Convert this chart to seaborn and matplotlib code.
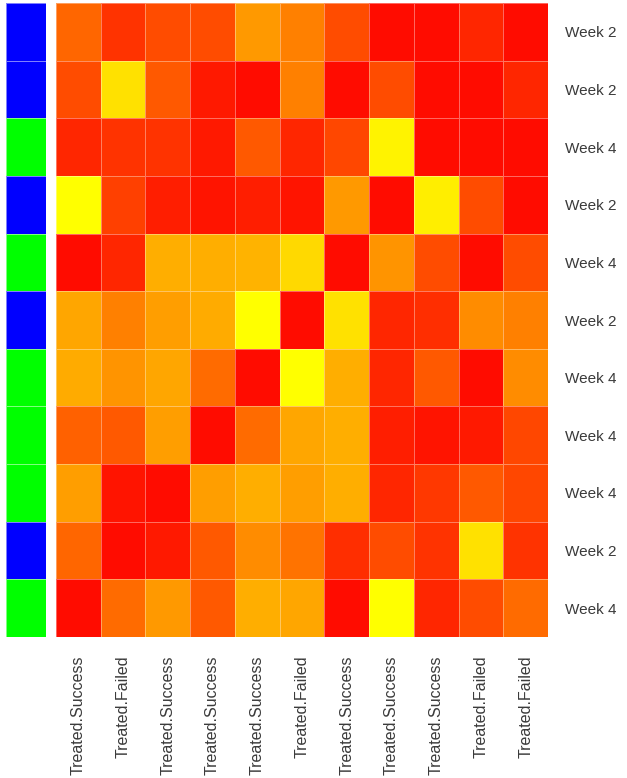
import numpy as np
import pandas as pd
import seaborn as sns
import matplotlib.pyplot as plt
from matplotlib.colors import LinearSegmentedColormap, ListedColormap

# row / column annotations
row_labels = ['Week 2', 'Week 2', 'Week 4', 'Week 2', 'Week 4', 'Week 2',
              'Week 4', 'Week 4', 'Week 4', 'Week 2', 'Week 4']
col_labels = ['Treated.Success', 'Treated.Failed', 'Treated.Success', 'Treated.Success',
              'Treated.Success', 'Treated.Failed', 'Treated.Success', 'Treated.Success',
              'Treated.Success', 'Treated.Failed', 'Treated.Failed']
row_groups = [0, 0, 1, 0, 1, 0, 1, 1, 1, 0, 1]   # 0 = blue (Week 2), 1 = green (Week 4)

# cell values (0 = red, 1 = yellow), read row by row
r0 = [0.40, 0.20, 0.30, 0.30, 0.60, 0.50, 0.30, 0.05, 0.05, 0.15, 0.05]
r1 = [0.30, 0.88, 0.35, 0.10, 0.05, 0.50, 0.05, 0.30, 0.05, 0.05, 0.15]
r2 = [0.15, 0.20, 0.20, 0.10, 0.35, 0.15, 0.28, 0.95, 0.05, 0.05, 0.05]
r3 = [1.00, 0.25, 0.12, 0.08, 0.12, 0.08, 0.60, 0.05, 0.93, 0.30, 0.05]
r4 = [0.05, 0.15, 0.68, 0.68, 0.70, 0.85, 0.05, 0.58, 0.30, 0.05, 0.30]
r5 = [0.65, 0.50, 0.62, 0.67, 1.00, 0.05, 0.88, 0.15, 0.18, 0.55, 0.50]
r6 = [0.67, 0.58, 0.65, 0.42, 0.05, 1.00, 0.68, 0.15, 0.35, 0.05, 0.55]
r7 = [0.38, 0.35, 0.62, 0.05, 0.42, 0.65, 0.68, 0.12, 0.08, 0.10, 0.28]
r8 = [0.62, 0.08, 0.05, 0.62, 0.68, 0.62, 0.68, 0.15, 0.22, 0.35, 0.28]
r9 = [0.40, 0.05, 0.10, 0.35, 0.55, 0.45, 0.18, 0.30, 0.20, 0.88, 0.20]
r10 = [0.05, 0.42, 0.60, 0.35, 0.68, 0.65, 0.05, 1.00, 0.15, 0.30, 0.42]

vals = np.array([r0, r1, r2, r3, r4, r5, r6, r7, r8, r9, r10])
df = pd.DataFrame(vals, index=range(len(row_labels)), columns=range(len(col_labels)))

heat = LinearSegmentedColormap.from_list('heat', ['#ff0000', '#ffff00'])
side = ListedColormap(['#0000ff', '#00ff00'])

sns.set_style('white')
plt.rcParams['font.family'] = ['Liberation Sans', 'DejaVu Sans']

fig = plt.figure(figsize=(6.27, 7.78), dpi=100)
W, H = 627, 778
ax_side = fig.add_axes([6 / W, 1 - 637 / H, 40 / W, 634 / H])
ax = fig.add_axes([56 / W, 1 - 637 / H, 492 / W, 634 / H])

sns.heatmap(pd.DataFrame({'g': row_groups}), ax=ax_side, cmap=side, vmin=0, vmax=1,
            cbar=False, xticklabels=False, yticklabels=False,
            linewidths=0.4, linecolor='#ffffff80')

sns.heatmap(df, ax=ax, cmap=heat, vmin=0, vmax=1, cbar=False,
            linewidths=0.4, linecolor='#ffffff60')

ax.yaxis.tick_right()
ax.set_yticks(np.arange(len(row_labels)) + 0.5)
ax.set_yticklabels(row_labels, rotation=0, fontsize=11, color='#3a3a3a')
ax.set_xticks(np.arange(len(col_labels)) + 0.5)
ax.set_xticklabels(col_labels, rotation=90, fontsize=11.5, color='#3a3a3a')
ax.tick_params(axis='y', length=0, pad=12)
ax.tick_params(axis='x', length=0, pad=13)
ax.set_xlabel('')
ax.set_ylabel('')

fig.savefig('out.png', dpi=100)
